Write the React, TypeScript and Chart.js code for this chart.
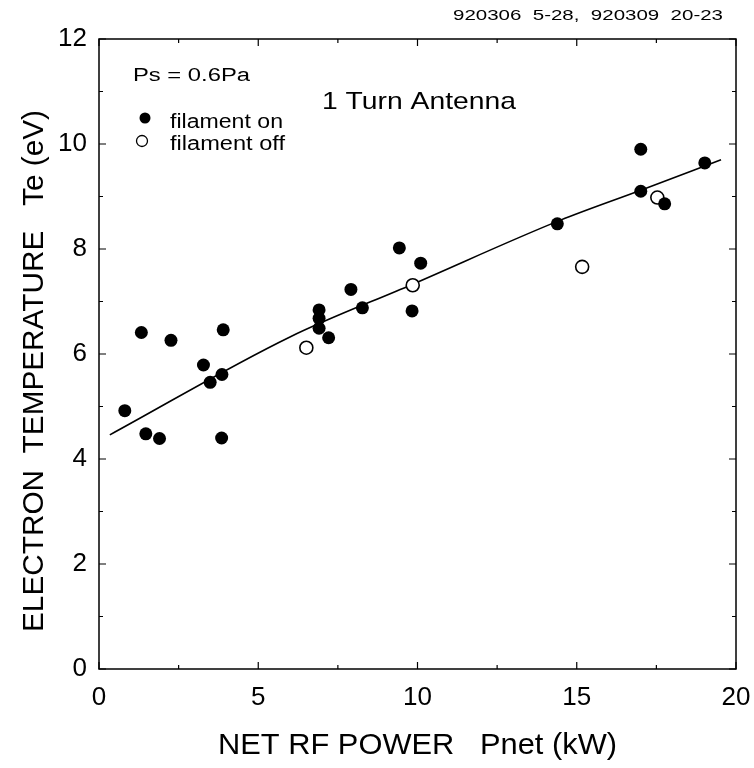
import React, { useEffect, useRef } from "react";
import { Chart, registerables } from "chart.js";

Chart.register(...registerables);

const filamentOnX = [0.81, 1.33, 1.47, 1.9, 2.26, 3.28, 3.49, 3.86, 3.9, 3.85, 6.91, 6.91, 6.91, 7.21, 7.91, 8.27, 9.43, 9.83, 10.1, 14.39, 17.01, 17.01, 17.76, 19.02];
const filamentOnY = [4.92, 6.41, 4.48, 4.39, 6.26, 5.79, 5.46, 5.61, 6.46, 4.4, 6.84, 6.68, 6.49, 6.31, 7.23, 6.88, 8.02, 6.82, 7.73, 8.48, 9.9, 9.1, 8.86, 9.64];
const filamentOffX = [6.51, 9.85, 15.17, 17.53];
const filamentOffY = [6.12, 7.31, 7.66, 8.98];
const fitX = [0.34, 5.98, 9.85, 14.49, 17.01, 19.53];
const fitY = [4.46, 6.32, 7.33, 8.55, 9.12, 9.7];
const xTicks = [0, 5, 10, 15, 20];
const yTicks = [0, 2, 4, 6, 8, 10, 12];
const xMinor = [2.5, 7.5, 12.5, 17.5];
const yMinor = [1, 3, 5, 7, 9, 11];

const FONT = "'Liberation Sans', Arial, Helvetica, sans-serif";

function fitText(ctx: CanvasRenderingContext2D, text: string, x0: number, x1: number, y: number, size: number) {
  ctx.font = `${size}px ${FONT}`;
  const w = ctx.measureText(text).width;
  const s = (x1 - x0) / w;
  ctx.save();
  ctx.translate(x0, y);
  ctx.scale(s, 1);
  ctx.textAlign = "left";
  ctx.textBaseline = "middle";
  ctx.fillText(text, 0, 0);
  ctx.restore();
}

const framePlugin = {
  id: "frame",
  afterDatasetsDraw(chart: any) {
    const { ctx, chartArea: a, scales } = chart;
    const xs = scales.x;
    const ys = scales.y;
    ctx.save();
    ctx.strokeStyle = "#000";
    ctx.lineWidth = 1.5;
    ctx.strokeRect(a.left, a.top, a.right - a.left, a.bottom - a.top);
    ctx.lineWidth = 1.2;
    const tick = (vals: number[], len: number) => {
      vals.forEach((v) => {
        const px = xs.getPixelForValue(v);
        ctx.beginPath();
        ctx.moveTo(px, a.bottom);
        ctx.lineTo(px, a.bottom - len);
        ctx.moveTo(px, a.top);
        ctx.lineTo(px, a.top + len);
        ctx.stroke();
      });
    };
    const ytick = (vals: number[], len: number) => {
      vals.forEach((v) => {
        const py = ys.getPixelForValue(v);
        ctx.beginPath();
        ctx.moveTo(a.left, py);
        ctx.lineTo(a.left + len, py);
        ctx.moveTo(a.right, py);
        ctx.lineTo(a.right - len, py);
        ctx.stroke();
      });
    };
    tick(xTicks, 7);
    tick(xMinor, 4);
    ytick(yTicks, 7);
    ytick(yMinor, 4);

    ctx.fillStyle = "#000";
    fitText(ctx, "920306  5-28,  920309  20-23", 453, 723, 16, 15);
    fitText(ctx, "Ps = 0.6Pa", 133, 250, 76, 18);
    fitText(ctx, "1 Turn Antenna", 322, 516, 102, 24);
    fitText(ctx, "filament on", 170, 283, 122, 20);
    fitText(ctx, "filament off", 170, 285, 144, 20);
    ctx.beginPath();
    ctx.arc(145, 118, 5.5, 0, Math.PI * 2);
    ctx.fill();
    ctx.beginPath();
    ctx.lineWidth = 1.3;
    ctx.arc(142, 141, 5.5, 0, Math.PI * 2);
    ctx.stroke();
    // axis titles
    fitText(ctx, "NET RF POWER   Pnet (kW)", 218, 617, 746, 29);
    ctx.save();
    ctx.translate(35, 632);
    ctx.rotate(-Math.PI / 2);
    fitText(ctx, "ELECTRON  TEMPERATURE   Te (eV)", 0, 522, 0, 29);
    ctx.restore();
    ctx.restore();
  },
};

export default function App() {
  const ref = useRef<HTMLCanvasElement>(null);
  useEffect(() => {
    if (!ref.current) return;
    const chart = new Chart(ref.current, {
      type: "scatter",
      data: {
        datasets: [
          {
            label: "filament on",
            data: filamentOnX.map((x, i) => ({ x, y: filamentOnY[i] })),
            pointRadius: 6.5,
            pointBackgroundColor: "#000",
            pointBorderColor: "#000",
            pointBorderWidth: 0,
          },
          {
            label: "filament off",
            data: filamentOffX.map((x, i) => ({ x, y: filamentOffY[i] })),
            pointRadius: 6.5,
            pointBackgroundColor: "#fff",
            pointBorderColor: "#000",
            pointBorderWidth: 1.6,
          },
          {
            label: "fit",
            type: "line",
            data: fitX.map((x, i) => ({ x, y: fitY[i] })),
            showLine: true,
            borderColor: "#000",
            borderWidth: 1.6,
            pointRadius: 0,
            cubicInterpolationMode: "monotone",
            fill: false,
          } as any,
        ],
      },
      options: {
        animation: false,
        responsive: false,
        layout: { padding: { top: 39, right: 18, left: 0, bottom: 0 } },
        plugins: { legend: { display: false }, tooltip: { enabled: false } },
        scales: {
          x: {
            type: "linear",
            min: 0,
            max: 20,
            afterFit: (s: any) => {
              s.height = 99;
              s.paddingLeft = 0;
              s.paddingRight = 0;
            },
            afterBuildTicks: (s: any) => {
              s.ticks = xTicks.map((v) => ({ value: v }));
            },
            grid: { display: false, drawTicks: false },
            border: { display: false },
            ticks: {
              color: "#000",
              padding: 13,
              font: { family: FONT, size: 26 },
              maxRotation: 0,
            },
          },
          y: {
            type: "linear",
            min: 0,
            max: 12,
            afterFit: (s: any) => {
              s.width = 99;
              s.paddingTop = 0;
              s.paddingBottom = 0;
            },
            afterBuildTicks: (s: any) => {
              s.ticks = yTicks.map((v) => ({ value: v }));
            },
            grid: { display: false, drawTicks: false },
            border: { display: false },
            ticks: {
              color: "#000",
              padding: 12,
              font: { family: FONT, size: 26 },
            },
          },
        },
      },
      plugins: [framePlugin],
    });
    return () => chart.destroy();
  }, []);
  return (
    <div style={{ position: "fixed", left: 0, top: 0, width: 754, height: 768, background: "#fff" }}>
      <canvas ref={ref} width={754} height={768} style={{ width: 754, height: 768 }} />
    </div>
  );
}
